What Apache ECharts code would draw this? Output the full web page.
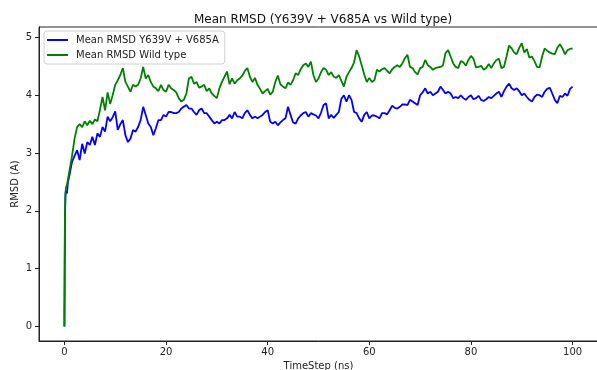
<!DOCTYPE html>
<html>
<head>
<meta charset="utf-8">
<script src="https://cdn.jsdelivr.net/npm/echarts@6/dist/echarts.min.js"></script>
<style>
  html, body { margin: 0; padding: 0; background: #fff; }
  #chart { width: 597px; height: 370px; }
</style>
</head>
<body>
<div id="chart"></div>
<script>
// time steps (ns): fine at the start, then every 0.5 ns
const timeSteps = [0, 0.1, 0.2, 0.3, 0.5, 0.7];
for (let i = 2; i <= 200; i++) timeSteps.push(i * 0.5);

const xTicks = [0, 20, 40, 60, 80, 100];
const yTicks = [0, 1, 2, 3, 4, 5];

// Mean RMSD Y639V + V685A
const mutantRmsd = [
  0, 1.8, 2.25, 2.35, 2.3, 2.5, 2.62, 2.85,
  2.95, 3.05, 2.88, 3.16, 2.99, 3.19, 3.14, 3.28, 3.14, 3.34,
  3.28, 3.45, 3.37, 3.63, 3.55, 3.62, 3.72, 3.40, 3.50, 3.57,
  3.31, 3.19, 3.25, 3.40, 3.37, 3.45, 3.57, 3.80, 3.66, 3.51,
  3.45, 3.31, 3.43, 3.57, 3.57, 3.66, 3.63, 3.71, 3.71, 3.69,
  3.69, 3.71, 3.77, 3.80, 3.83, 3.77, 3.77, 3.71, 3.66, 3.74,
  3.77, 3.69, 3.69, 3.63, 3.57, 3.51, 3.54, 3.51, 3.57, 3.57,
  3.60, 3.66, 3.60, 3.71, 3.63, 3.63, 3.60, 3.69, 3.74, 3.66,
  3.60, 3.63, 3.60, 3.63, 3.66, 3.71, 3.74, 3.54, 3.51, 3.54,
  3.48, 3.53, 3.57, 3.60, 3.80, 3.66, 3.53, 3.51, 3.60, 3.65,
  3.69, 3.71, 3.63, 3.69, 3.67, 3.65, 3.60, 3.70, 3.83, 3.86,
  3.60, 3.66, 3.61, 3.66, 3.71, 3.94, 4.00, 3.89, 4.00, 3.92,
  3.71, 3.69, 3.60, 3.54, 3.66, 3.71, 3.60, 3.65, 3.65, 3.63,
  3.60, 3.69, 3.69, 3.67, 3.74, 3.82, 3.78, 3.77, 3.80, 3.84,
  3.84, 3.83, 3.92, 3.89, 3.86, 3.83, 4.00, 4.05, 4.12, 4.03,
  4.06, 4.00, 4.03, 4.06, 4.15, 4.09, 4.03, 4.06, 4.03, 3.95,
  3.97, 3.95, 4.00, 3.95, 3.92, 3.97, 4.00, 3.93, 3.95, 3.99,
  3.92, 3.90, 3.93, 3.97, 3.95, 3.99, 4.03, 4.06, 3.97, 4.07,
  4.15, 4.20, 4.12, 4.09, 4.12, 4.07, 4.00, 4.03, 3.97, 3.92,
  3.89, 3.97, 4.01, 4.00, 3.97, 4.06, 4.11, 4.13, 4.03, 3.92,
  3.86, 3.99, 3.97, 4.03, 3.99, 4.11, 4.15
];

// Mean RMSD Wild type
const wildRmsd = [
  0, 1.9, 2.3, 2.4, 2.45, 2.55, 2.7, 2.95,
  3.25, 3.45, 3.50, 3.45, 3.55, 3.48, 3.56, 3.50, 3.58, 3.55,
  3.75, 3.97, 3.74, 4.05, 3.85, 4.00, 4.18, 4.26, 4.35, 4.47,
  4.23, 4.15, 4.06, 4.18, 4.15, 4.18, 4.29, 4.49, 4.29, 4.35,
  4.23, 4.15, 4.12, 4.07, 4.18, 4.09, 4.06, 4.18, 4.12, 4.09,
  4.05, 3.95, 3.89, 3.92, 4.03, 4.29, 4.32, 4.20, 4.23, 4.13,
  4.15, 4.18, 4.07, 4.12, 4.03, 3.99, 3.95, 4.12, 4.23, 4.32,
  4.41, 4.19, 4.29, 4.20, 4.26, 4.29, 4.34, 4.42, 4.47, 4.32,
  4.23, 4.30, 4.18, 4.11, 4.03, 4.07, 4.11, 4.01, 4.06, 4.23,
  4.34, 4.19, 4.15, 4.12, 4.22, 4.18, 4.26, 4.38, 4.35, 4.45,
  4.52, 4.55, 4.49, 4.58, 4.35, 4.23, 4.29, 4.40, 4.47, 4.44,
  4.35, 4.40, 4.32, 4.30, 4.35, 4.25, 4.15, 4.32, 4.40, 4.47,
  4.57, 4.78, 4.67, 4.52, 4.36, 4.23, 4.30, 4.23, 4.26, 4.44,
  4.41, 4.45, 4.47, 4.42, 4.38, 4.45, 4.49, 4.52, 4.49, 4.55,
  4.64, 4.70, 4.49, 4.47, 4.40, 4.36, 4.47, 4.49, 4.61, 4.52,
  4.49, 4.44, 4.47, 4.48, 4.49, 4.52, 4.73, 4.78, 4.67, 4.55,
  4.49, 4.47, 4.59, 4.57, 4.51, 4.61, 4.68, 4.63, 4.48, 4.49,
  4.51, 4.44, 4.47, 4.54, 4.47, 4.55, 4.61, 4.63, 4.47, 4.49,
  4.67, 4.86, 4.81, 4.74, 4.71, 4.82, 4.90, 4.74, 4.80, 4.65,
  4.67, 4.59, 4.49, 4.48, 4.67, 4.81, 4.77, 4.74, 4.72, 4.71,
  4.82, 4.88, 4.81, 4.71, 4.78, 4.80, 4.81
];

const chart = echarts.init(document.getElementById("chart"));
const axisColor = "#222";

chart.setOption({
  animation: false,
  title: {
    text: "Mean RMSD (Y639V + V685A vs Wild type)",
    left: 318,
    textAlign: "center",
    top: 9,
    textStyle: { fontFamily: "DejaVu Sans", fontSize: 12, fontWeight: "normal", color: "#111" }
  },
  legend: {
    left: 44,
    top: 31,
    orient: "vertical",
    icon: "rect",
    itemWidth: 21,
    itemHeight: 2,
    itemGap: 5,
    padding: [4, 6, 4, 3],
    borderColor: "#d0d0d0",
    borderWidth: 1,
    borderRadius: 3,
    backgroundColor: "rgba(255,255,255,0.8)",
    textStyle: { fontFamily: "DejaVu Sans", fontSize: 10, color: "#222", padding: [0, 0, 0, 3] },
    data: ["Mean RMSD Y639V + V685A", "Mean RMSD Wild type"]
  },
  grid: {
    left: 39,
    top: 27,
    width: 559,
    height: 314,
    outerBoundsMode: "none",
    containLabel: false,
    show: true,
    borderColor: axisColor,
    borderWidth: 1
  },
  xAxis: {
    type: "value",
    min: -5,
    max: 105,
    name: "TimeStep (ns)",
    nameLocation: "middle",
    nameGap: 20,
    nameMoveOverlap: false,
    nameTextStyle: { fontFamily: "DejaVu Sans", fontSize: 10, color: "#222" },
    axisLine: { show: true, onZero: false, lineStyle: { color: axisColor } },
    axisTick: { show: true, length: 4, customValues: xTicks, lineStyle: { color: axisColor } },
    axisLabel: { customValues: xTicks, margin: 6, fontFamily: "DejaVu Sans", fontSize: 10, color: "#222" },
    splitLine: { show: false }
  },
  yAxis: {
    type: "value",
    min: -0.25,
    max: 5.18,
    name: "RMSD (A)",
    nameLocation: "middle",
    nameGap: 19,
    nameMoveOverlap: false,
    nameTextStyle: { fontFamily: "DejaVu Sans", fontSize: 10, color: "#222" },
    axisLine: { show: true, onZero: false, lineStyle: { color: axisColor } },
    axisTick: { show: true, length: 4, customValues: yTicks, lineStyle: { color: axisColor } },
    axisLabel: { customValues: yTicks, margin: 7, fontFamily: "DejaVu Sans", fontSize: 10, color: "#222" },
    splitLine: { show: false }
  },
  series: [
    {
      name: "Mean RMSD Y639V + V685A",
      type: "line",
      symbol: "none",
      color: "#0000ff",
      lineStyle: { width: 1.8 },
      data: timeSteps.map((t, i) => [t, mutantRmsd[i]])
    },
    {
      name: "Mean RMSD Wild type",
      type: "line",
      symbol: "none",
      color: "#008000",
      lineStyle: { width: 1.8 },
      data: timeSteps.map((t, i) => [t, wildRmsd[i]])
    }
  ]
});
</script>
</body>
</html>
